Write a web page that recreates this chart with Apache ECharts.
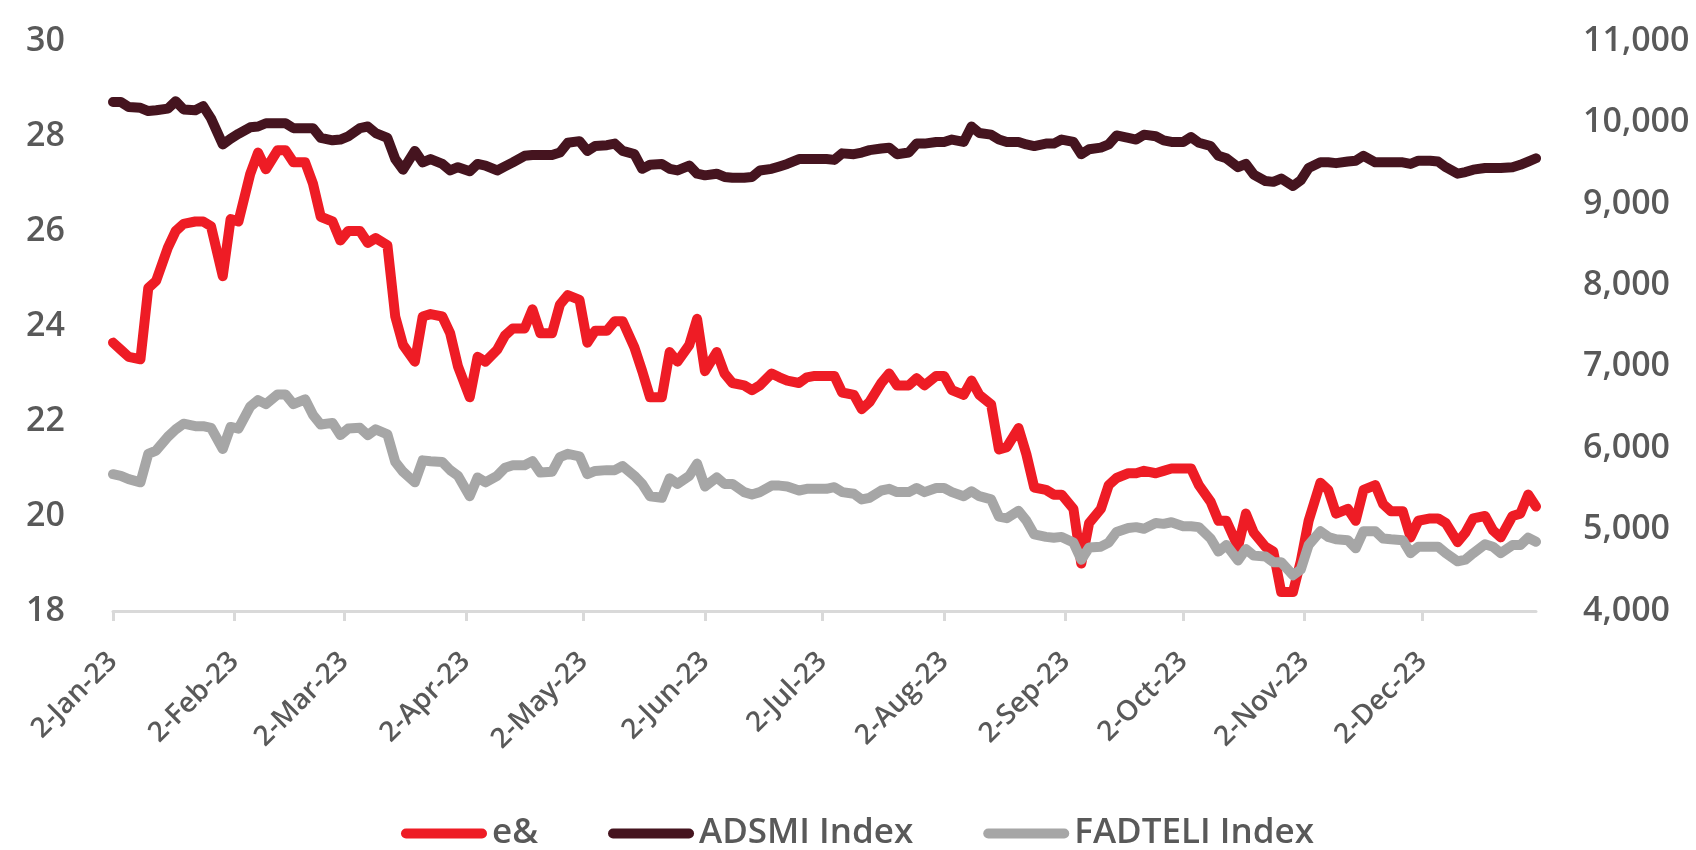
<!DOCTYPE html>
<html>
<head>
<meta charset="utf-8">
<script src="https://cdn.jsdelivr.net/npm/echarts@6.0.0/dist/echarts.min.js"></script>
<style>
  html, body { margin: 0; padding: 0; background: #fff; }
  #chart_container { width: 1696px; height: 850px; }
</style>
</head>
<body>
<div id="chart_container"></div>
<script>
// sampled closing levels (Mon / Wed / Fri)
const dates = [
  '2023-01-02','2023-01-04','2023-01-06', '2023-01-09','2023-01-11','2023-01-13',
  '2023-01-16','2023-01-18','2023-01-20', '2023-01-23','2023-01-25','2023-01-27',
  '2023-01-30','2023-02-01','2023-02-03', '2023-02-06','2023-02-08','2023-02-10',
  '2023-02-13','2023-02-15','2023-02-17', '2023-02-20','2023-02-22','2023-02-24',
  '2023-02-27','2023-03-01','2023-03-03', '2023-03-06','2023-03-08','2023-03-10',
  '2023-03-13','2023-03-15','2023-03-17', '2023-03-20','2023-03-22','2023-03-24',
  '2023-03-27','2023-03-29','2023-03-31', '2023-04-03','2023-04-05','2023-04-07',
  '2023-04-10','2023-04-12','2023-04-14', '2023-04-17','2023-04-19','2023-04-21',
  '2023-04-24','2023-04-26','2023-04-28', '2023-05-01','2023-05-03','2023-05-05',
  '2023-05-08','2023-05-10','2023-05-12', '2023-05-15','2023-05-17','2023-05-19',
  '2023-05-22','2023-05-24','2023-05-26', '2023-05-29','2023-05-31','2023-06-02',
  '2023-06-05','2023-06-07','2023-06-09', '2023-06-12','2023-06-14','2023-06-16',
  '2023-06-19','2023-06-21','2023-06-23', '2023-06-26','2023-06-28','2023-06-30',
  '2023-07-03','2023-07-05','2023-07-07', '2023-07-10','2023-07-12','2023-07-14',
  '2023-07-17','2023-07-19','2023-07-21', '2023-07-24','2023-07-26','2023-07-28',
  '2023-07-31','2023-08-02','2023-08-04', '2023-08-07','2023-08-09','2023-08-11',
  '2023-08-14','2023-08-16','2023-08-18', '2023-08-21','2023-08-23','2023-08-25',
  '2023-08-28','2023-08-30','2023-09-01', '2023-09-04','2023-09-06','2023-09-08',
  '2023-09-11','2023-09-13','2023-09-15', '2023-09-18','2023-09-20','2023-09-22',
  '2023-09-25','2023-09-27','2023-09-29', '2023-10-02','2023-10-04','2023-10-06',
  '2023-10-09','2023-10-11','2023-10-13', '2023-10-16','2023-10-18','2023-10-20',
  '2023-10-23','2023-10-25','2023-10-27', '2023-10-30','2023-11-01','2023-11-03',
  '2023-11-06','2023-11-08','2023-11-10', '2023-11-13','2023-11-15','2023-11-17',
  '2023-11-20','2023-11-22','2023-11-24', '2023-11-27','2023-11-29','2023-12-01',
  '2023-12-04','2023-12-06','2023-12-08', '2023-12-11','2023-12-13','2023-12-15',
  '2023-12-18','2023-12-20','2023-12-22', '2023-12-25','2023-12-27','2023-12-29',
  '2023-12-31'
]

// e& share price (left axis)
const eand = [
  23.65, 23.5, 23.35,  23.3, 24.8, 24.95,  25.65, 26.0, 26.15,  26.2, 26.2, 26.1,
  25.05, 26.25, 26.2,  27.2, 27.65, 27.3,  27.7, 27.7, 27.45,  27.45, 27.0, 26.3,
  26.2, 25.8, 26.0,  26.0, 25.75, 25.85,  25.7, 24.2, 23.6,  23.25, 24.2, 24.25,
  24.2, 23.85, 23.15,  22.5, 23.35, 23.25,  23.5, 23.8, 23.95,  23.95, 24.35, 23.85,
  23.85, 24.45, 24.65,  24.55, 23.65, 23.9,  23.9, 24.1, 24.1,  23.55, 23.05, 22.5,
  22.5, 23.45, 23.25,  23.6, 24.15, 23.05,  23.45, 23.0, 22.8,  22.75, 22.65, 22.75,
  23.0, 22.92, 22.85,  22.8, 22.92, 22.95,  22.95, 22.95, 22.6,  22.55, 22.25, 22.4,
  22.8, 23.0, 22.75,  22.75, 22.9, 22.75,  22.95, 22.95, 22.65,  22.55, 22.85, 22.55,
  22.35, 21.4, 21.45,  21.85, 21.3, 20.6,  20.55, 20.45, 20.45,  20.15, 19.0, 19.85,
  20.15, 20.65, 20.8,  20.9, 20.9, 20.95,  20.9, 20.95, 21.0,  21.0, 21.0, 20.65,
  20.3, 19.9, 19.9,  19.35, 20.05, 19.65,  19.35, 19.25, 18.4,  18.4, 19.05, 19.9,
  20.7, 20.55, 20.05,  20.15, 19.9, 20.55,  20.65, 20.25, 20.1,  20.1, 19.55, 19.9,
  19.95, 19.95, 19.85,  19.45, 19.65, 19.95,  20.0, 19.7, 19.55,  20.0, 20.05, 20.45,
  20.2
]

// ADSMI Index (right axis)
const adsmi = [
  10250, 10250, 10190,  10180, 10140, 10150,  10170, 10260, 10160,  10150, 10200, 10050,
  9730, 9800, 9860,  9940, 9950, 9990,  9990, 9990, 9930,  9930, 9930, 9810,
  9780, 9790, 9830,  9930, 9950, 9870,  9810, 9550, 9420,  9650, 9510, 9550,
  9490, 9410, 9450,  9400, 9490, 9470,  9410, 9460, 9510,  9590, 9600, 9600,
  9600, 9630, 9750,  9770, 9650, 9710,  9720, 9740, 9650,  9610, 9430, 9480,
  9490, 9430, 9410,  9470, 9370, 9350,  9370, 9330, 9320,  9320, 9330, 9410,
  9430, 9460, 9490,  9550, 9550, 9550,  9550, 9540, 9620,  9610, 9630, 9660,
  9680, 9690, 9610,  9630, 9740, 9740,  9760, 9760, 9790,  9760, 9950, 9870,
  9850, 9790, 9760,  9760, 9730, 9710,  9740, 9740, 9790,  9760, 9610, 9670,
  9690, 9730, 9840,  9810, 9790, 9850,  9830, 9780, 9760,  9760, 9820, 9750,
  9710, 9590, 9560,  9450, 9490, 9360,  9280, 9270, 9310,  9220, 9290, 9440,
  9510, 9510, 9500,  9520, 9530, 9590,  9510, 9510, 9510,  9510, 9490, 9530,
  9530, 9520, 9450,  9370, 9390, 9420,  9440, 9440, 9440,  9450, 9480, 9520,
  9560
]

// FADTELI Index (right axis)
const fadteli = [
  5680, 5660, 5620,  5580, 5930, 5970,  6140, 6230, 6300,  6270, 6270, 6250,
  5990, 6260, 6240,  6510, 6590, 6540,  6660, 6660, 6540,  6600, 6410, 6290,
  6310, 6160, 6240,  6250, 6160, 6230,  6170, 5830, 5710,  5580, 5850, 5840,
  5830, 5730, 5660,  5410, 5640, 5580,  5660, 5760, 5790,  5790, 5840, 5700,
  5710, 5890, 5930,  5900, 5680, 5720,  5730, 5730, 5780,  5660, 5560, 5410,
  5390, 5630, 5560,  5660, 5810, 5530,  5640, 5560, 5560,  5460, 5430, 5460,
  5540, 5540, 5530,  5480, 5500, 5500,  5500, 5520, 5460,  5440, 5370, 5390,
  5480, 5500, 5460,  5460, 5510, 5460,  5510, 5510, 5460,  5410, 5470, 5410,
  5370, 5160, 5140,  5230, 5110, 4940,  4910, 4900, 4910,  4840, 4630, 4780,
  4790, 4840, 4970,  5020, 5030, 5010,  5080, 5070, 5090,  5040, 5040, 5030,
  4890, 4730, 4810,  4620, 4760, 4680,  4670, 4600, 4600,  4440, 4510, 4810,
  4980, 4910, 4880,  4870, 4770, 4980,  4980, 4890, 4880,  4870, 4710, 4790,
  4790, 4790, 4710,  4610, 4630, 4710,  4820, 4790, 4710,  4810, 4810, 4900,
  4850
]

// x axis tick labels
const tickDates = [
  '2023-01-02', '2023-02-02', '2023-03-02', '2023-04-02', '2023-05-02', '2023-06-02',
  '2023-07-02', '2023-08-02', '2023-09-02', '2023-10-02', '2023-11-02', '2023-12-02'
]
const monthNames = ['Jan', 'Feb', 'Mar', 'Apr', 'May', 'Jun', 'Jul', 'Aug', 'Sep', 'Oct', 'Nov', 'Dec']

function toTs(s) {
  let p = s.split('-').map(Number)
  return new Date(p[0], p[1] - 1, p[2]).getTime()
}
function pairs(values) {
  return dates.map((d, i) => [toTs(d), values[i]])
}

const FONT = 'Open Sans'
const TEXT = '#595959'
const capsule = 'path://M5,0H81A5,5,0,0,1,81,10H5A5,5,0,0,1,5,0Z'

let chartPlot = echarts.init(document.getElementById('chart_container'))
let option = {
  animation: false,
  color: ['#EE1C25', '#45141F', '#A6A6A6'],
  textStyle: { fontFamily: FONT },
  grid: {
    left: 113,
    right: 160,
    top: 41,
    bottom: 239,
    containLabel: false,
    outerBoundsMode: 'none',
  },
  legend: {
    left: 396,
    top: 811,
    icon: capsule,
    itemWidth: 86,
    itemHeight: 10,
    itemGap: 70,
    textStyle: { fontFamily: FONT, fontSize: 35, fontWeight: 600, color: TEXT },
  },
  // dates drawn on a numeric axis so the ticks can sit on the 2nd of each month
  xAxis: {
    type: 'value',
    min: toTs('2023-01-02'),
    max: toTs('2023-12-31'),
    splitLine: { show: false },
    axisLine: { show: true, lineStyle: { color: '#D9D9D9', width: 3 } },
    axisTick: {
      show: true,
      length: 10,
      lineStyle: { color: '#D9D9D9', width: 3 },
      customValues: tickDates.map(toTs),
    },
    axisLabel: {
      rotate: 45,
      margin: 46,
      fontSize: 28,
      fontWeight: 600,
      color: TEXT,
      fontFamily: FONT,
      showMinLabel: true,
      showMaxLabel: true,
      customValues: tickDates.map(toTs),
      formatter: (v) => {
        let d = new Date(v)
        return d.getDate() + '-' + monthNames[d.getMonth()] + '-23'
      },
    },
  },
  yAxis: [
    {
      type: 'value',
      min: 18,
      max: 30,
      interval: 2,
      splitLine: { show: false },
      axisLine: { show: false },
      axisTick: { show: false },
      axisLabel: { margin: 48, fontSize: 34, fontWeight: 600, color: TEXT, fontFamily: FONT },
    },
    {
      type: 'value',
      min: 4000,
      max: 11000,
      interval: 1000,
      splitLine: { show: false },
      axisLine: { show: false },
      axisTick: { show: false },
      axisLabel: {
        margin: 47,
        fontSize: 34,
        fontWeight: 600,
        color: TEXT,
        fontFamily: FONT,
        formatter: (v) => v.toLocaleString('en-US'),
      },
    },
  ],
  series: [
    { name: 'e&', yAxisIndex: 0, data: pairs(eand) },
    { name: 'ADSMI Index', yAxisIndex: 1, data: pairs(adsmi) },
    { name: 'FADTELI Index', yAxisIndex: 1, data: pairs(fadteli) },
  ].map((s) => Object.assign(s, {
    type: 'line',
    symbol: 'none',
    lineStyle: { width: 10, cap: 'round', join: 'round' },
  })),
}
chartPlot.setOption(option)
</script>
</body>
</html>
